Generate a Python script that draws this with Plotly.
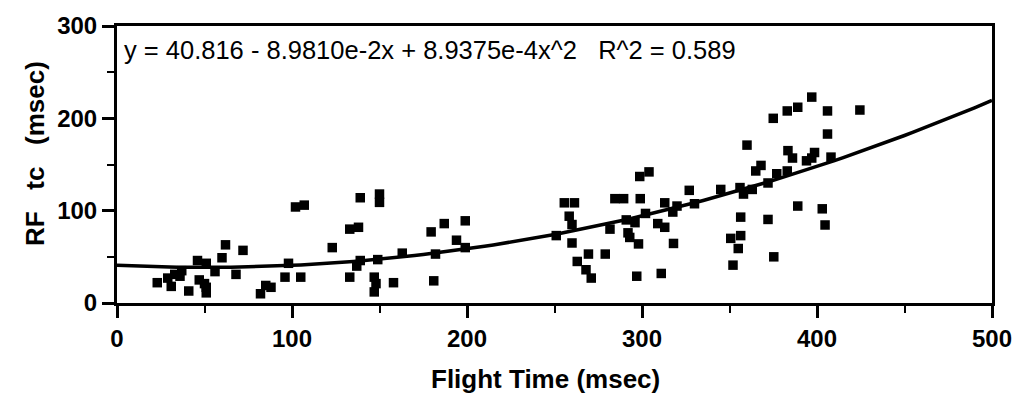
import plotly.graph_objects as go

# Scatter data: Flight Time (msec) vs RF tc (msec)
flight_time = [
    23, 29, 31, 33, 36, 37, 41, 46, 51, 47, 50, 51, 51, 56, 60, 62, 68, 72, 82, 85, 88, 96, 98, 102, 107, 105, 123,
    133, 138, 139, 150, 150, 137, 139, 133, 147, 148, 147, 149, 158, 163, 179.5, 181, 182, 187, 194, 199, 199,
    251, 255.6, 261.4, 258.4, 260, 260, 263, 268, 271, 269.4, 279, 281.7, 284.5, 289.5, 299, 298.7, 304, 291, 292,
    293, 296, 298, 302, 297, 309, 313, 311, 313, 317.6, 320, 318, 327, 330, 345,
    356, 358, 363, 372, 377, 383, 365, 368, 360, 375, 383, 389, 397, 406, 424.5, 406, 383.4, 386, 394, 397, 398.6,
    408, 389, 403, 404.6, 356.4, 372, 350.7, 356.4, 355, 352, 375.3,
]
rf_tc = [
    22, 27, 18, 31, 29, 35, 13, 46, 43, 25, 21, 17, 11, 34, 49, 63, 31, 57, 10, 19, 17, 28, 43, 104, 106, 28, 60,
    80, 82, 114, 118, 109, 40, 46, 28, 28, 21, 12, 47, 22, 54, 77, 24, 53, 86, 68, 89, 60,
    73, 108.5, 108.5, 94, 85, 65, 45, 36, 27, 53, 53, 80, 113, 113, 113, 137, 142, 90, 76,
    71, 87, 64, 97, 29, 86, 82, 32, 108.5, 98.5, 105, 64.5, 122, 107.5, 123,
    125, 118, 123, 130, 140, 143, 143, 149, 171, 200, 208, 212, 223, 208, 209, 183, 165, 157, 154, 157, 163,
    158, 105, 102, 84.5, 93, 90.5, 70, 73, 59, 41, 50,
]

# Quadratic fit stated on the chart: y = c0 + c1*x + c2*x^2
fit_coeffs = [40.816, -8.9810e-2, 8.9375e-4]
fit_x = list(range(0, 501, 5))
fit_y = [fit_coeffs[0] + fit_coeffs[1] * x + fit_coeffs[2] * x * x for x in fit_x]

x_ticks = [0, 100, 200, 300, 400, 500]
y_ticks = [0, 100, 200, 300]

FONT = "Liberation Sans, Arial, Helvetica, sans-serif"

fig = go.Figure()
fig.add_trace(go.Scatter(
    x=fit_x, y=fit_y, mode="lines",
    line=dict(color="black", width=3.5),
    hoverinfo="skip", showlegend=False,
))
fig.add_trace(go.Scatter(
    x=flight_time, y=rf_tc, mode="markers",
    marker=dict(symbol="square", size=9.5, color="black", line=dict(width=0)),
    showlegend=False,
))

axis_common = dict(
    showgrid=False, zeroline=False,
    showline=True, linecolor="black", linewidth=3, mirror=True,
    ticks="outside", ticklen=12, tickwidth=2.5, tickcolor="black",
    tickfont=dict(family=FONT, size=24, color="black", weight="bold"),
)

fig.update_layout(
    width=1024, height=394,
    margin=dict(l=117, r=28, t=20, b=91),
    paper_bgcolor="white", plot_bgcolor="white",
    xaxis=dict(
        range=[0, 500], tickvals=x_ticks, ticktext=[str(v) for v in x_ticks],
        minor=dict(dtick=50, ticks="outside", ticklen=7, tickwidth=2, tickcolor="black"),
        **axis_common,
    ),
    yaxis=dict(
        range=[0, 300], tickvals=y_ticks, ticktext=[str(v) for v in y_ticks],
        minor=dict(dtick=50, ticks="outside", ticklen=7, tickwidth=2, tickcolor="black"),
        **axis_common,
    ),
    annotations=[
        dict(
            text="y = 40.816 - 8.9810e-2x + 8.9375e-4x^2 \u00a0 R^2 = 0.589",
            xref="paper", yref="paper", x=0.006, y=0.915,
            xanchor="left", yanchor="middle", showarrow=False,
            font=dict(family=FONT, size=25.5, color="black"),
        ),
        dict(
            text="<b>Flight Time (msec)</b>",
            xref="paper", yref="paper", x=0.49, y=-0.275,
            xanchor="center", yanchor="middle", showarrow=False,
            font=dict(family=FONT, size=26, color="black"),
        ),
        dict(
            text="<b>RF \u00a0\u00a0tc \u00a0\u00a0(msec)</b>",
            xref="paper", yref="paper", x=-0.093, y=0.54,
            xanchor="center", yanchor="middle", showarrow=False, textangle=-90,
            font=dict(family=FONT, size=26, color="black"),
        ),
    ],
)

fig.write_html("out.html")
